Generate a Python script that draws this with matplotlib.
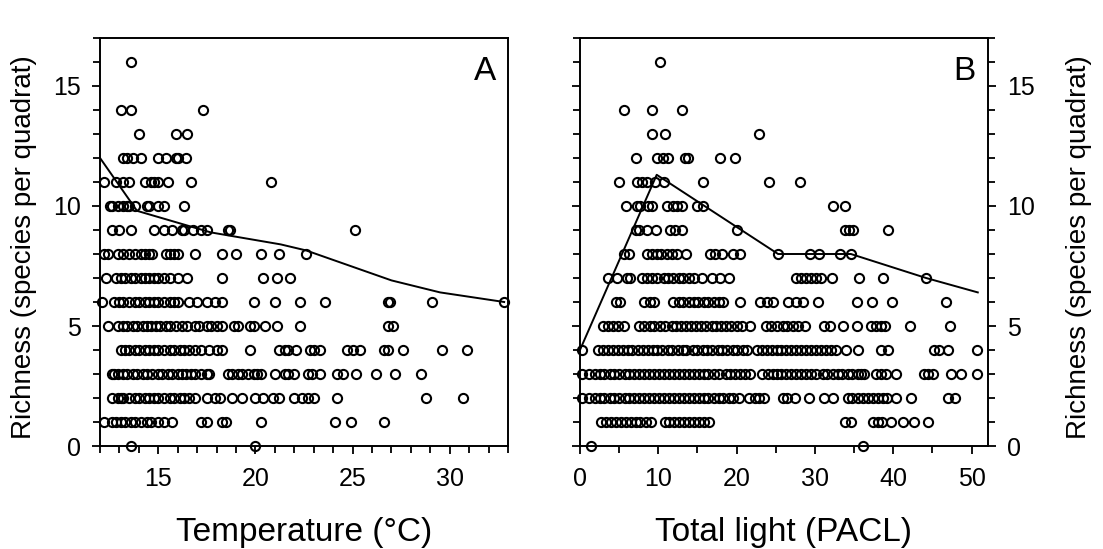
import matplotlib
matplotlib.use('Agg')
import matplotlib.pyplot as plt
from matplotlib.ticker import MultipleLocator

plt.rcParams['font.family'] = ['Liberation Sans', 'DejaVu Sans']

# panel A: temperature (deg C) of each quadrat, grouped by richness
temp_rows = {
    16: [13.6],
    14: [13.1, 13.6, 17.3],
    13: [14.0, 15.9, 16.5],
    12: [13.2, 13.4, 13.7, 14.1, 15.0, 15.4, 15.9, 16.0, 16.4],
    11: [12.2, 12.8, 13.2, 13.5, 14.3, 14.6, 14.8, 15.0, 15.5, 16.7, 20.8],
    10: [12.5, 12.6, 12.9, 13.2, 13.4, 13.5, 13.8, 14.4, 14.5, 15.0, 15.3, 16.3],
    9: [12.6, 13.0, 13.6, 14.8, 15.3, 15.7, 16.2, 16.3, 16.8, 17.2, 17.5, 18.6,
        18.7, 25.1],
    8: [12.2, 12.4, 12.9, 13.2, 13.5, 13.8, 14.1, 14.3, 14.5, 14.7, 15.4, 15.6,
        15.8, 16.0, 16.9, 18.3, 19.0, 20.3, 21.2, 22.6],
    7: [12.3, 12.8, 13.1, 13.3, 13.6, 13.8, 14.1, 14.3, 14.5, 14.8, 15.0, 15.3,
        15.6, 16.0, 16.5, 18.3, 20.4, 21.1, 21.8],
    6: [12.1, 12.7, 13.0, 13.2, 13.5, 13.8, 14.0, 14.3, 14.5, 14.8, 15.0, 15.3,
        15.6, 15.8, 16.0, 16.6, 17.0, 17.5, 17.9, 18.3, 19.9, 21.0, 22.3, 23.6,
        26.8, 26.9, 29.1, 32.8],
    5: [12.4, 12.9, 13.2, 13.4, 13.7, 13.9, 14.2, 14.4, 14.6, 14.9, 15.1, 15.4,
        15.6, 15.9, 16.2, 16.5, 16.9, 17.1, 17.5, 17.7, 18.0, 18.3, 18.9, 19.1,
        19.7, 19.9, 20.5, 21.1, 22.3, 26.8, 27.1],
    4: [13.1, 13.3, 13.5, 13.8, 14.0, 14.3, 14.5, 14.8, 15.0, 15.3, 15.6, 15.8,
        16.1, 16.3, 16.6, 16.9, 17.2, 17.6, 18.0, 18.3, 19.7, 21.2, 21.5, 21.7,
        22.1, 22.8, 23.0, 23.3, 24.7, 25.0, 25.4, 26.6, 26.8, 27.6, 29.6, 30.9],
    3: [12.6, 12.7, 12.9, 13.2, 13.4, 13.7, 13.9, 14.2, 14.4, 14.7, 15.0, 15.2,
        15.5, 15.7, 16.0, 16.2, 16.4, 16.7, 16.9, 17.2, 17.5, 17.6, 18.6, 18.8,
        19.1, 19.3, 19.6, 19.9, 20.1, 20.3, 21.0, 21.5, 21.7, 22.0, 22.7, 22.9,
        23.3, 24.2, 24.5, 25.2, 26.2, 27.2, 28.5],
    2: [12.6, 12.9, 13.1, 13.2, 13.5, 13.8, 14.0, 14.3, 14.5, 14.8, 15.0, 15.3,
        15.6, 15.8, 16.1, 16.3, 16.6, 16.9, 17.5, 17.9, 18.2, 18.8, 19.3, 20.0,
        20.4, 20.9, 21.2, 22.0, 22.4, 22.7, 23.0, 24.2, 28.8, 30.7],
    1: [12.2, 12.6, 12.8, 13.1, 13.3, 13.6, 13.8, 14.1, 14.4, 14.6, 15.0, 15.3,
        15.7, 17.2, 17.5, 18.3, 18.5, 20.3, 24.1, 24.9, 26.6],
    0: [13.6, 20.0],
}
temp_fit_x = [12.0, 13.9, 17.7, 21.3, 22.6, 27.0, 29.5, 32.8]
temp_fit_y = [12.0, 9.8, 8.9, 8.4, 8.15, 6.9, 6.4, 6.0]

# panel B: total light (PACL) of each quadrat, grouped by richness
light_rows = {
    16: [10.2],
    14: [5.6, 9.2, 13.0],
    13: [9.2, 10.9, 22.8],
    12: [7.2, 9.8, 10.6, 11.3, 13.4, 13.8, 17.9, 19.8],
    11: [5.0, 7.3, 7.9, 8.5, 9.6, 10.7, 15.7, 24.1, 28.1],
    10: [5.9, 7.3, 7.7, 8.7, 9.2, 11.1, 11.9, 12.4, 13.0, 14.9, 15.7, 32.3, 33.8],
    9: [7.2, 7.6, 8.5, 9.7, 11.5, 12.2, 13.0, 20.0, 33.8, 34.4, 34.9, 39.3],
    8: [5.6, 6.2, 8.5, 9.2, 9.8, 10.4, 11.1, 11.7, 12.4, 13.6, 16.6, 17.3, 18.1,
        19.6, 20.5, 25.3, 29.4, 30.5, 33.2, 34.6],
    7: [3.6, 4.7, 6.0, 6.4, 7.9, 8.5, 9.2, 9.8, 10.7, 11.3, 11.9, 12.6, 13.2,
        13.9, 14.5, 15.6, 16.8, 17.9, 19.0, 27.6, 28.2, 28.9, 29.5, 30.2, 30.8,
        32.2, 35.6, 38.7, 44.2],
    6: [4.6, 5.1, 8.2, 8.9, 9.5, 11.9, 12.6, 13.2, 13.9, 14.5, 15.1, 15.8, 16.4,
        17.1, 17.7, 18.3, 20.5, 23.0, 23.9, 24.7, 26.6, 27.6, 28.5, 30.4, 35.4,
        37.3, 39.9, 46.7],
    5: [2.9, 3.6, 4.2, 4.8, 5.6, 7.6, 8.2, 8.9, 9.5, 10.2, 10.8, 11.7, 12.3,
        12.9, 13.6, 14.2, 14.8, 15.5, 16.1, 16.8, 17.4, 18.0, 18.7, 19.3, 20.0,
        20.7, 21.7, 23.8, 24.4, 25.1, 25.9, 26.5, 27.2, 27.8, 28.7, 31.2, 31.9,
        33.6, 35.4, 37.2, 37.8, 38.5, 39.0, 42.1, 47.3],
    4: [0.2, 2.3, 2.9, 3.6, 4.2, 4.8, 5.5, 6.1, 6.6, 7.4, 8.0, 8.7, 9.3, 9.8,
        10.5, 11.2, 11.8, 12.5, 13.1, 13.6, 14.4, 15.0, 15.7, 16.2, 16.9, 17.6,
        18.2, 18.8, 19.5, 20.1, 20.8, 21.3, 22.6, 23.3, 23.9, 24.5, 25.2, 25.7,
        26.3, 27.0, 27.6, 28.2, 28.9, 29.5, 30.2, 30.8, 31.4, 32.1, 32.7, 34.0,
        35.5, 38.5, 39.3, 45.2, 45.8, 47.0, 50.7],
    3: [0.2, 1.2, 1.9, 2.5, 3.1, 3.8, 4.4, 5.0, 5.7, 6.3, 6.9, 7.6, 8.2, 8.8,
        9.5, 10.1, 10.7, 11.4, 12.0, 12.6, 13.3, 13.9, 14.5, 15.2, 15.8, 16.4,
        17.1, 17.7, 18.6, 19.2, 19.8, 20.5, 21.1, 21.7, 23.3, 24.0, 24.6, 25.2,
        25.7, 26.3, 27.0, 27.6, 28.2, 28.9, 29.5, 30.2, 31.0, 31.6, 32.3, 32.9,
        33.5, 34.2, 34.8, 35.5, 35.9, 36.3, 37.8, 38.5, 39.1, 40.4, 43.9, 44.5,
        45.1, 47.4, 48.7, 50.7],
    2: [0.2, 1.2, 1.9, 2.5, 3.1, 3.8, 4.4, 5.0, 5.7, 6.3, 6.9, 7.6, 8.2, 8.8,
        9.5, 10.1, 10.7, 11.4, 12.0, 12.6, 13.3, 13.9, 14.5, 15.2, 15.8, 16.4,
        17.1, 17.7, 18.3, 19.0, 19.6, 20.3, 21.6, 22.3, 22.9, 23.5, 25.9, 26.5,
        27.4, 29.3, 31.2, 32.3, 34.2, 34.8, 35.5, 36.1, 36.8, 37.4, 38.0, 38.7,
        39.2, 40.4, 42.3, 47.0, 47.9],
    1: [2.7, 3.3, 4.0, 4.6, 5.2, 5.9, 6.5, 7.1, 7.7, 8.4, 9.1, 10.8, 11.4, 12.0,
        12.7, 13.3, 13.9, 14.6, 15.2, 15.8, 16.5, 33.8, 34.6, 37.4, 38.0, 38.6,
        39.7, 41.2, 42.6, 44.5],
    0: [1.4, 36.2],
}
light_fit_x = [0.0, 9.8, 25.3, 34.6, 44.2, 50.8]
light_fit_y = [4.0, 11.3, 8.0, 8.0, 7.0, 6.4]

ylabel = 'Richness (species per quadrat)'

fig = plt.figure(figsize=(11.03, 5.49), dpi=100)
axA = fig.add_axes([0.0907, 0.1876, 0.3699, 0.7432])
axB = fig.add_axes([0.5258, 0.1876, 0.3699, 0.7432])

def scatter_rows(ax, rows):
    for rich, xs in rows.items():
        ax.plot(xs, [rich] * len(xs), 'o', ms=6.6, mfc='none', mec='black',
                mew=1.5, clip_on=False, zorder=3)

def style(ax):
    for s in ax.spines.values():
        s.set_linewidth(1.4)
    ax.set_ylim(0, 17)
    ax.yaxis.set_major_locator(MultipleLocator(5))
    ax.yaxis.set_minor_locator(MultipleLocator(1))
    ax.tick_params(which='both', direction='out', width=1.3, labelsize=18,
                   color='black')
    ax.tick_params(which='major', length=6)
    ax.tick_params(which='minor', length=5)
    ax.tick_params(axis='y', which='major', pad=8)
    ax.tick_params(axis='x', which='major', pad=9)

# panel A
scatter_rows(axA, temp_rows)
axA.plot(temp_fit_x, temp_fit_y, '-', color='black', lw=1.4, zorder=2)
axA.set_xlim(12, 33)
style(axA)
axA.xaxis.set_major_locator(MultipleLocator(5))
axA.xaxis.set_minor_locator(MultipleLocator(1))
axA.set_xlabel('Temperature (°C)', fontsize=24)
axA.xaxis.set_label_coords(0.5, -0.175)
axA.text(0.97, 0.955, 'A', transform=axA.transAxes, ha='right', va='top',
         fontsize=24)

# panel B
scatter_rows(axB, light_rows)
axB.plot(light_fit_x, light_fit_y, '-', color='black', lw=1.4, zorder=2)
axB.set_xlim(0, 52.1)
style(axB)
axB.xaxis.set_major_locator(MultipleLocator(10))
axB.xaxis.set_minor_locator(MultipleLocator(5))
axB.tick_params(axis='y', which='both', left=True, right=True,
                labelleft=False, labelright=True)
axB.set_xlabel('Total light (PACL)', fontsize=24)
axB.xaxis.set_label_coords(0.5, -0.175)
axB.text(0.97, 0.955, 'B', transform=axB.transAxes, ha='right', va='top',
         fontsize=24)

# y labels on both outer sides
fig.text(24 / 1103, 0.55, ylabel, rotation=90, ha='center', va='center',
         fontsize=20)
fig.text(1079 / 1103, 0.55, ylabel, rotation=90, ha='center', va='center',
         fontsize=20)

fig.savefig('out.png', dpi=100)
